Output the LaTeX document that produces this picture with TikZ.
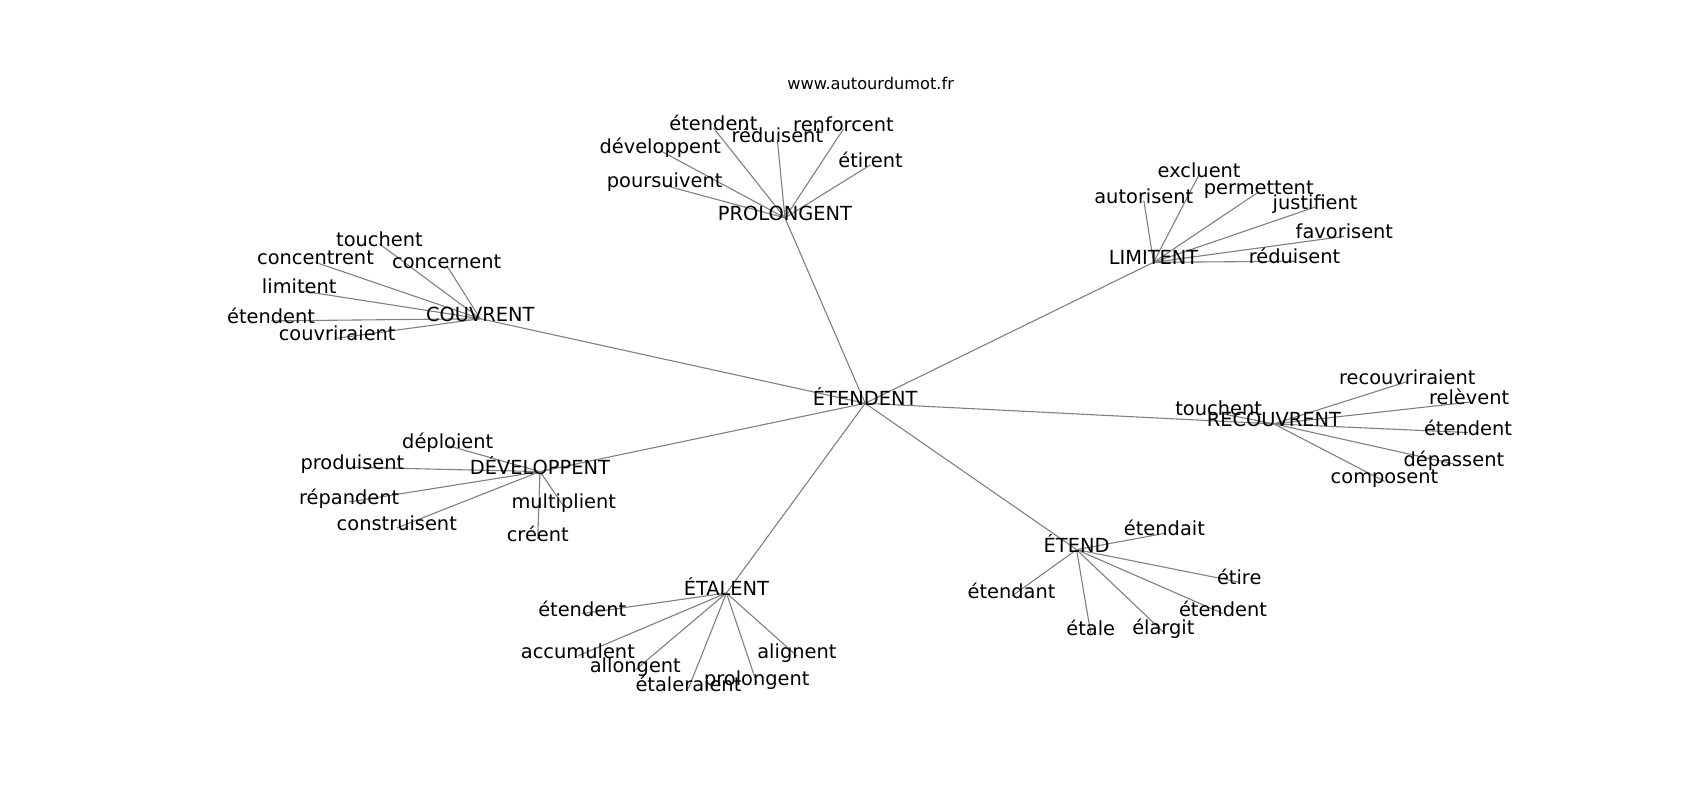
\documentclass[tikz,border=0pt]{standalone}
\usepackage{fontspec}
\setmainfont{DejaVu Sans}
\usetikzlibrary{backgrounds}
\tikzset{
  lbl/.style={inner sep=0pt, text height=0.76em, text depth=0.24em, yshift=-4.3pt, font=\fontsize{19.4}{23}\selectfont},
  ttl/.style={inner sep=0pt, yshift=-1pt, font=\fontsize{16.2}{19}\selectfont},
  edge/.style={draw=black!50, line width=1.1pt}
}
\begin{document}
\begin{tikzpicture}[x=1.0842pt, y=-1.0842pt]
\useasboundingbox (0,0) rectangle (1568,737.9);
\node[ttl] (title) at (803,76) {www.autourdumot.fr};
% hubs
\node[lbl] (c) at (798,368) {ÉTENDENT};
\node[lbl] (p) at (724,197) {PROLONGENT};
\node[lbl] (l) at (1064,238) {LIMITENT};
\node[lbl] (v) at (443,290) {COUVRENT};
\node[lbl] (r) at (1175,387) {RECOUVRENT};
\node[lbl] (d) at (498,431) {DÉVELOPPENT};
\node[lbl] (a) at (670,543) {ÉTALENT};
\node[lbl] (e) at (993,503) {ÉTEND};
% PROLONGENT leaves
\node[lbl] (p1) at (658,114) {étendent};
\node[lbl] (p2) at (717,125) {réduisent};
\node[lbl] (p3) at (778,115) {renforcent};
\node[lbl] (p4) at (803,148) {étirent};
\node[lbl] (p5) at (609,135) {développent};
\node[lbl] (p6) at (613,167) {poursuivent};
% LIMITENT leaves
\node[lbl] (l1) at (1106,157) {excluent};
\node[lbl] (l2) at (1055,181) {autorisent};
\node[lbl] (l3) at (1161,173) {permettent};
\node[lbl] (l4) at (1213,187) {justifient};
\node[lbl] (l5) at (1240,214) {favorisent};
\node[lbl] (l6) at (1194,237) {réduisent};
% COUVRENT leaves
\node[lbl] (v1) at (350,221) {touchent};
\node[lbl] (v2) at (291,238) {concentrent};
\node[lbl] (v3) at (412,241) {concernent};
\node[lbl] (v4) at (276,264) {limitent};
\node[lbl] (v5) at (250,292) {étendent};
\node[lbl] (v6) at (311,308) {couvriraient};
% RECOUVRENT leaves
\node[lbl] (r1) at (1124,377) {touchent};
\node[lbl] (r2) at (1298,348) {recouvriraient};
\node[lbl] (r3) at (1355,367) {relèvent};
\node[lbl] (r4) at (1354,395) {étendent};
\node[lbl] (r5) at (1341,424) {dépassent};
\node[lbl] (r6) at (1277,440) {composent};
% DÉVELOPPENT leaves
\node[lbl] (d1) at (413,407) {déploient};
\node[lbl] (d2) at (325,427) {produisent};
\node[lbl] (d3) at (322,459) {répandent};
\node[lbl] (d4) at (366,483) {construisent};
\node[lbl] (d5) at (520,463) {multiplient};
\node[lbl] (d6) at (496,493) {créent};
% ÉTALENT leaves
\node[lbl] (a1) at (537,562) {étendent};
\node[lbl] (a2) at (533,601) {accumulent};
\node[lbl] (a3) at (586,614) {allongent};
\node[lbl] (a4) at (635,631) {étaleraient};
\node[lbl] (a5) at (698,626) {prolongent};
\node[lbl] (a6) at (735,601) {alignent};
% ÉTEND leaves
\node[lbl] (e1) at (1074,488) {étendait};
\node[lbl] (e2) at (1143,533) {étire};
\node[lbl] (e3) at (933,546) {étendant};
\node[lbl] (e4) at (1128,562) {étendent};
\node[lbl] (e5) at (1073,579) {élargit};
\node[lbl] (e6) at (1006,580) {étale};
\begin{scope}[on background layer]
\fill[white] (0,0) rectangle (1568,737.9);
\foreach \h in {p,l,v,r,d,a,e}{
  \draw[edge] (c.center) -- (\h.center);
  \foreach \i in {1,...,6}{
    \draw[edge] (\h.center) -- (\h\i.center);
  }
}
\end{scope}
\end{tikzpicture}
\end{document}
